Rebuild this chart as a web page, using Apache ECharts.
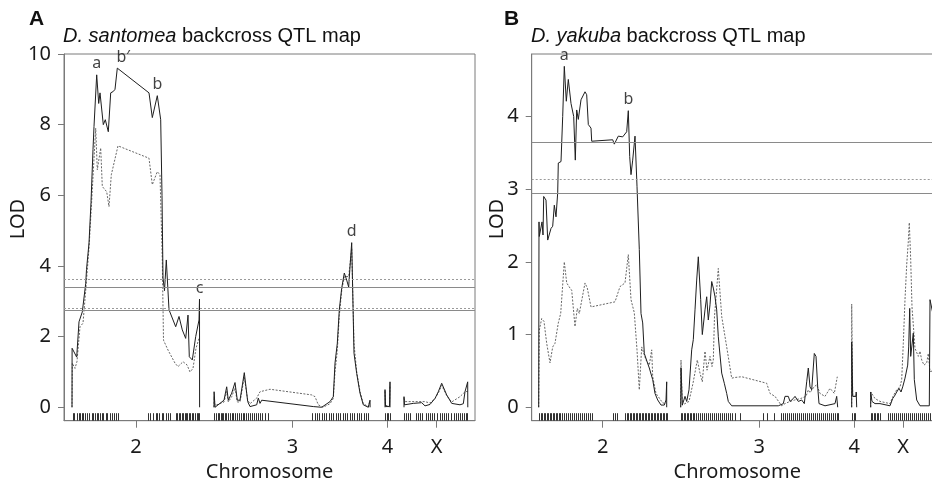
<!DOCTYPE html>
<html><head><meta charset="utf-8">
<script src="https://cdn.jsdelivr.net/npm/echarts@6/dist/echarts.min.js"></script>
<style>html,body{margin:0;padding:0;background:#fff}#c{width:932px;height:480px}</style>
</head><body><div id="c"></div>
<script>
// ---------- chromosome layout (cM) ----------
const chromNames = ['2', '3', '4', 'X'];
const chromLengths = [128, 157, 5, 65];
const chromGap = 14;
const axisMax = 411;

// ---------- thresholds ----------
const santomeaThreshSolid = [3.40, 2.76];
const santomeaThreshDotted = [3.63, 2.80];
const yakubaThreshSolid = [3.64, 2.95];
const yakubaThreshDotted = [3.14];

// ---------- y tick labels ----------
const santomeaYTicks = [0, 2, 4, 6, 8, 10];
const yakubaYTicks = [0, 1, 2, 3, 4];

// ---------- D. santomea LOD profiles [cM within chromosome, LOD] ----------
const santomeaSolid2 = [[0,0],[0.1,1.67],[4.7,1.42],[7,2.42],[10.3,2.7],[12,2.73],[13.7,3.5],[14.5,3.9],[17,4.65],[19,5.8],[21,7.3],[22,7.95],[24.7,9.41],[26.7,8.6],[28,8.9],[31.3,8.0],[33.3,8.14],[36.3,7.8],[38.7,8.9],[41.3,8.94],[43,9.0],[45.3,9.6],[77,8.9],[80.3,8.2],[85.3,8.82],[88.7,8.14],[90,6.0],[91,3.66],[92.5,3.3],[94.3,4.17],[97,2.76],[103.7,2.28],[107,2.57],[110.3,2.19],[113.7,1.95],[116,2.61],[117.3,1.43],[120.3,1.34],[123.7,2.0],[127,2.47],[127.5,3.06],[127.6,0]];
const santomeaDotted2 = [[0,0],[0.3,1.25],[3,1.1],[5,1.3],[8,2.28],[11,2.38],[13.7,3.3],[17,4.5],[20,6.0],[23.7,7.9],[25.3,6.72],[28.7,7.34],[30.3,6.25],[34.7,6.1],[37,5.68],[39.3,6.58],[46,7.4],[77,7.05],[80.3,6.3],[85.3,6.67],[88,6.58],[90.3,4.17],[91.5,1.9],[96,1.62],[103,1.25],[106,1.15],[111,1.29],[115,1.2],[118,1.0],[121,1.1],[124,1.67],[127,1.95]];
const santomeaSolid3 = [[0,0],[0.1,0.44],[1,0],[10,0.2],[12.7,0.58],[14.3,0.2],[17.7,0.4],[21,0.7],[23.3,0.2],[26,0.2],[30.3,0.98],[33.7,0.16],[36,0.02],[42.7,0.07],[44.3,0.26],[46,0.11],[47.7,0.2],[99.3,0.02],[107.7,0],[116,0.16],[119.3,0.3],[121,1.25],[123.3,1.81],[125.3,2.76],[127.7,3.37],[130.3,3.8],[132.7,3.6],[134.7,3.4],[135,3.56],[137.7,4.66],[140,1.53],[142.7,0.96],[146,0.4],[149.3,0.07],[154.3,0],[156,0.2],[156.1,0]];
const santomeaDotted3 = [[0,0],[0.1,0.3],[1,0.05],[10,0.15],[12.7,0.45],[14.3,0.15],[17.7,0.3],[21,0.55],[23.3,0.15],[26,0.15],[30.3,0.85],[33.7,0.2],[36,0.1],[42.7,0.26],[46,0.44],[56,0.51],[97.7,0.35],[101,0.3],[104.3,0.07],[109,0],[116,0.1],[119.3,0.25],[121,1.0],[123.3,1.6],[125.3,2.6],[127.7,3.3],[130.3,3.7],[134.7,3.7],[137.7,4.5],[140,1.8],[142.7,1.0],[146,0.45],[149.3,0.1],[154.3,0.02],[156,0.2]];
const santomeaSolid4 = [[0,0],[0,0.5],[0.5,0.02],[4.5,0.02],[5,0.72],[5,0]];
const santomeaDotted4 = [[0,0.45],[0.5,0.05],[4.5,0.05],[5,0.6]];
const santomeaSolidX = [[0,0],[0,0.3],[0.5,0.07],[9.3,0.11],[17.7,0.13],[21,0.04],[26,0.08],[31,0.25],[34.3,0.44],[37.7,0.68],[39.3,0.63],[42.7,0.35],[47.7,0.11],[56,0.07],[59.3,0.1],[61,0.44],[62.7,0.4],[63.7,0.72],[63.8,0]];
const santomeaDottedX = [[0,0.25],[1,0.16],[21,0.16],[26,0.12],[31,0.25],[34.3,0.4],[37.7,0.62],[39.3,0.6],[42.7,0.33],[47.7,0.15],[56,0.3],[61,0.44],[63.7,0.45]];

// ---------- D. yakuba LOD profiles ----------
const yakubaSolid2 = [[0,0],[0.3,2.55],[0.6,2.35],[3.3,2.55],[4.3,2.37],[5,2.9],[7.3,2.85],[9,2.3],[10.6,2.28],[12.3,2.46],[14,2.49],[15.6,2.78],[17.3,2.62],[19,2.95],[19.6,3.36],[22.3,3.38],[24,4.0],[25.6,4.69],[27.6,4.21],[29.6,4.51],[32.3,4.18],[34,4.2],[35,4.0],[36.6,3.4],[38,4.09],[39.6,3.96],[42.3,4.23],[46.3,4.34],[48,4.3],[49.6,3.89],[52.3,3.84],[53,3.66],[74,3.68],[75.6,3.62],[79.6,3.73],[84,3.72],[88,3.79],[89.6,4.08],[91,3.45],[92.3,3.2],[94,3.4],[96.3,3.73],[98.3,3.04],[100.6,2.17],[102.3,1.29],[104,1.16],[105.6,0.74],[108.3,0.63],[110.6,0.54],[114,0.38],[116.3,0.19],[119,0.1],[122.3,0.03],[125.6,0.03],[127.3,0.1],[128,0.35],[128,0]];
const yakubaDotted2 = [[0,0],[0.6,1.06],[3,1.22],[5.3,1.18],[8,0.88],[11.3,0.61],[14,0.83],[16.3,0.88],[19.6,1.16],[22,1.29],[25.6,2.0],[28,1.71],[31.3,1.64],[33,1.61],[36.3,1.11],[38.6,1.36],[40.6,1.29],[46.3,1.71],[48.6,1.64],[52.3,1.38],[76.3,1.45],[81.3,1.66],[86.3,1.71],[89.6,2.1],[92.3,1.48],[95.6,1.3],[98.3,0.79],[100.6,0.24],[103,0.83],[107.3,0.65],[110.6,0.58],[113,0.79],[114,0.42],[117.3,0.19],[124,0.06],[127.3,0.05]];
const yakubaSolid3 = [[0,0],[0.3,0.54],[1.6,0.03],[4.3,0.15],[6,0.08],[8.3,0.24],[11,0.79],[12.6,0.93],[14.3,1.34],[16,1.75],[17.6,2.07],[20,1.48],[21.6,1.0],[24.3,1.34],[26,1.52],[27.6,1.2],[29.3,1.41],[31,1.73],[32.6,1.64],[34.3,1.52],[36,1.34],[37.6,0.97],[41,0.47],[43.6,0.33],[46,0.19],[47.6,0.08],[51,0.02],[97.6,0.02],[102.6,0.05],[104.3,0.15],[107.6,0.15],[109.3,0.08],[112.6,0.12],[114.3,0.15],[117.6,0.08],[121,0.1],[123.6,0.05],[126,0.35],[127.6,0.54],[129.3,0.28],[131,0.24],[133.6,0.74],[135.3,0.7],[137,0.28],[138.3,0.05],[144.3,0.02],[154.3,0.05],[156,0.15],[157,0]];
const yakubaDotted3 = [[0,0],[0.3,0.65],[1.6,0.03],[4.3,0.05],[8.3,0.08],[12.3,0.33],[16.6,0.65],[19.3,0.47],[21.6,0.35],[24.3,0.77],[26.3,0.51],[29.3,0.7],[31.3,0.56],[32.6,0.65],[33.8,1.25],[37.6,1.91],[41,1.25],[46,0.83],[51,0.4],[54.3,0.41],[61,0.42],[86,0.33],[89.3,0.19],[94.3,0.15],[101,0.02],[104.3,0.05],[109.3,0.08],[114,0.1],[120,0.12],[125.3,0.15],[127.6,0.24],[129.3,0.2],[133.3,0.28],[136,0.31],[137.6,0.33],[139.3,0.19],[144.3,0.15],[149.3,0.26],[151,0.24],[153.6,0.19],[156.6,0.42]];
const yakubaSolid4 = [[0,0],[0,0.9],[1,0.15],[4.3,0.15],[4.5,0.21],[5,0]];
const yakubaDotted4 = [[0,0],[0,1.42],[1,0.15],[4.3,0.15],[5,0.2]];
const yakubaSolidX = [[0,0],[0,0.21],[1.3,0.08],[4.3,0.05],[9.3,0.05],[19.3,0.02],[22,0.12],[23.6,0.15],[26,0.21],[28.3,0.26],[30.3,0.21],[32,0.28],[34.3,0.4],[36,0.42],[37,0.58],[38,0.83],[39,1.36],[40,0.7],[41.6,0.7],[42.6,1.02],[43.6,0.38],[46,0.1],[49.3,0.02],[58.6,0.02],[59.3,1.48],[60,1.48],[62,1.3]];
const yakubaDottedX = [[0,0],[0,0.21],[4.3,0.12],[6,0.1],[9.3,0.08],[11,0.1],[19.3,0.05],[22.3,0.15],[26,0.24],[29.3,0.28],[31,0.38],[32.6,0.88],[34.3,1.48],[36,1.96],[37.6,2.28],[38.6,2.54],[40,2.03],[41.3,1.38],[44.3,0.81],[47.6,0.7],[49.3,0.77],[51,0.65],[53.3,0.58],[56,0.61],[57.6,0.74],[59.3,0.49],[60,0.48],[62,0.5]];

// ---------- marker positions (cM) ----------
const santomeaMarkers2 = [0.7,2,4.7,6.7,8,10,11.3,13.3,15.3,17.3,20,21.3,23,24.7,26.3,28,29.7,31.3,34,35.3,38,40,42,44,46.3,76.3,78,81.3,84,85.3,87.3,89.7,91.3,94,96.3,98,103.7,105.3,107,108,109.7,111.3,113,114,115.3,116.7,118,119.7,121.3,123,124.7,126.3,127.3];
const santomeaMarkers3 = [0,2,3.5,5,6.5,8,9,10.5,12,14,16,17.5,19,21,23,25,27,28.5,30,32,34,36,38,40,42,44,46,48,50.5,54,98,100.5,103,105,107.5,110,112,114.5,117,119,121.5,124,126,128.5,131,133,135.5,138,140,142.5,145,147,149.5,152,154];
const santomeaMarkers4 = [0,1.5,3,5];
const santomeaMarkersX = [0,2,4,6,12,14,16,18,22,24,26,28,30,33,36,38,40,42,44,47,50,52,54,56,58,60,62,63];
const yakubaMarkers2 = [0.6,2,3.5,5,6.5,8,9.5,11,12.5,14,15.5,17,18.5,20,21.5,23,25,27,29,31,33,35,37,39,41,43,45,47,49,51,53,74.3,76,78.3,86.3,88,89.5,91,92.5,94,95.5,97,98.5,100,101.5,103,104.5,106,107.5,109,110.5,112,113.5,115,116.5,118,119.5,121,122.5,124,125.5,127,128];
const yakubaMarkers3 = [0,1.5,3,4.5,6,7.5,9,10.5,12,13.5,15,17,19,21,23,25,27,29,31,33,35,37,39,41,43,45,47,49,51,54.3,59.3,82,86.6,93.3,100.3,102,104,106,108,110,112,114,116,118,120,122,124,126,128,130,132,134,136,138,140,142,144,146,148,150,152,154,156,157];
const yakubaMarkers4 = [0,2,3.6];
const yakubaMarkersX = [0,1.5,3,4.5,6,7.5,9.3,17.6,19,21,23,25,27,29,31,33,35,37,39,41,43,45,47,49,51,53,55,57,59,61,63];

// ---------- peak labels [chromosome index, cM, LOD, text] ----------
const santomeaPeaks = [[0,24.7,9.41,'a'],[0,45.3,9.6,'b\u2032'],[0,85.3,8.82,'b'],[0,127.5,3.06,'c'],[1,137.7,4.66,'d']];
const yakubaPeaks = [[0,25.6,4.69,'a'],[0,89.6,4.08,'b']];

// ================= build =================
const FONT = 'Noto Sans';
const TITLEFONT = 'Liberation Sans';
function offsets(start) { const o = []; let s = start; chromLengths.forEach(L => { o.push(s); s += L + chromGap; }); return o; }
const offA = offsets(8), offB = offsets(7);
const centersA = offA.map((o, i) => o + chromLengths[i] / 2);
const centersB = offB.map((o, i) => o + chromLengths[i] / 2);

const panels = [
  { off: offA, centers: centersA, ymin: -0.38, ymax: 10, yticks: santomeaYTicks,
    solid: [santomeaSolid2, santomeaSolid3, santomeaSolid4, santomeaSolidX],
    dotted: [santomeaDotted2, santomeaDotted3, santomeaDotted4, santomeaDottedX],
    markers: [santomeaMarkers2, santomeaMarkers3, santomeaMarkers4, santomeaMarkersX],
    thS: santomeaThreshSolid, thD: santomeaThreshDotted, peaks: santomeaPeaks },
  { off: offB, centers: centersB, ymin: -0.185, ymax: 4.86, yticks: yakubaYTicks,
    solid: [yakubaSolid2, yakubaSolid3, yakubaSolid4, yakubaSolidX],
    dotted: [yakubaDotted2, yakubaDotted3, yakubaDotted4, yakubaDottedX],
    markers: [yakubaMarkers2, yakubaMarkers3, yakubaMarkers4, yakubaMarkersX],
    thS: yakubaThreshSolid, thD: yakubaThreshDotted, peaks: yakubaPeaks }
];

const grids = [
  { left: 64, top: 54, width: axisMax, height: 366.7, show: true, borderColor: '#7a7a7a', borderWidth: 1, containLabel: false, outerBoundsMode: 'none' },
  { left: 531.7, top: 54, width: axisMax, height: 366.7, show: true, borderColor: '#7a7a7a', borderWidth: 1, containLabel: false, outerBoundsMode: 'none' }
];

const xAxes = [], yAxes = [], series = [];
panels.forEach((P, gi) => {
  xAxes.push({
    type: 'value', gridIndex: gi, min: 0, max: axisMax,
    axisLine: { show: true, onZero: false, lineStyle: { color: '#7a7a7a', width: 1 } },
    axisTick: { show: true, length: 7, customValues: P.centers, lineStyle: { color: '#7a7a7a' } },
    axisLabel: { customValues: P.centers, margin: 17, fontSize: 20, color: '#1a1a1a', fontFamily: FONT,
      formatter: v => { const i = P.centers.findIndex(c => Math.abs(c - v) < 0.01); return i >= 0 ? chromNames[i] : ''; } },
    splitLine: { show: false },
    name: 'Chromosome', nameLocation: 'middle', nameGap: 37,
    nameTextStyle: { fontSize: 20, color: '#1a1a1a', fontFamily: FONT }
  });
  yAxes.push({
    type: 'value', gridIndex: gi, min: P.ymin, max: P.ymax,
    axisLine: { show: true, onZero: false, lineStyle: { color: '#7a7a7a', width: 1 } },
    axisTick: { show: true, length: 6, customValues: P.yticks, lineStyle: { color: '#7a7a7a' } },
    axisLabel: { customValues: P.yticks, margin: 13, fontSize: 20, color: '#1a1a1a', fontFamily: FONT },
    splitLine: { show: false }
  });
  P.dotted.forEach((arr, ci) => {
    series.push({ type: 'line', xAxisIndex: gi, yAxisIndex: gi, showSymbol: false, silent: true, animation: false,
      data: arr.map(d => [P.off[ci] + d[0], d[1]]),
      lineStyle: { color: '#666', width: 1, type: [2, 1.5] }, z: 2 });
  });
  P.solid.forEach((arr, ci) => {
    series.push({ type: 'line', xAxisIndex: gi, yAxisIndex: gi, showSymbol: false, silent: true, animation: false,
      data: arr.map(d => [P.off[ci] + d[0], d[1]]),
      lineStyle: { color: '#1e1e1e', width: 1 }, z: 3 });
  });
  series.push({ type: 'line', xAxisIndex: gi, yAxisIndex: gi, data: [], silent: true, animation: false,
    markLine: { symbol: ['none', 'none'], silent: true, animation: false, label: { show: false },
      data: P.thS.map(v => ({ yAxis: v, lineStyle: { color: '#8a8a8a', width: 1, type: 'solid' } }))
        .concat(P.thD.map(v => ({ yAxis: v, lineStyle: { color: '#9a9a9a', width: 1, type: [2, 2] } }))) } });
  const rug = [];
  P.markers.forEach((arr, ci) => arr.forEach(m => rug.push([P.off[ci] + m, P.ymin])));
  series.push({ type: 'custom', xAxisIndex: gi, yAxisIndex: gi, silent: true, animation: false, data: rug,
    encode: { x: 0, y: 1 },
    renderItem: (params, api) => {
      const p = api.coord([api.value(0), api.value(1)]);
      const x = Math.round(p[0]) + 0.5;
      return { type: 'line', shape: { x1: x, y1: p[1], x2: x, y2: p[1] - 7.5 },
        style: { stroke: '#333', lineWidth: 1 } };
    } });
  series.push({ type: 'scatter', xAxisIndex: gi, yAxisIndex: gi, silent: true, animation: false, symbolSize: 0,
    data: P.peaks.map(p => ({ value: [P.off[p[0]] + p[1], p[2]], name: p[3],
      label: { offset: p[3] === 'b\u2032' ? [6, 0] : [0, 0] } })),
    label: { show: true, position: 'top', distance: 3, formatter: '{b}', fontSize: 16, color: '#111', fontFamily: FONT } });
});

const chart = echarts.init(document.getElementById('c'), null, { renderer: 'canvas' });
chart.setOption({
  backgroundColor: '#fff',
  animation: false,
  grid: grids, xAxis: xAxes, yAxis: yAxes, series: series,
  graphic: [
    { type: 'text', left: 29, top: 9, style: { text: 'A', font: 'bold 21px "Liberation Sans"', fill: '#111' } },
    { type: 'text', left: 504, top: 9, style: { text: 'B', font: 'bold 21px "Liberation Sans"', fill: '#111' } },
    { type: 'text', left: 63, top: 26, style: { text: '{i|D. santomea} backcross QTL map',
      rich: { i: { fontStyle: 'italic', fontSize: 20, fontFamily: TITLEFONT, fill: '#111' } },
      fontSize: 20, fontFamily: TITLEFONT, fill: '#111' } },
    { type: 'text', left: 531, top: 26, style: { text: '{i|D. yakuba} backcross QTL map',
      rich: { i: { fontStyle: 'italic', fontSize: 20, fontFamily: TITLEFONT, fill: '#111' } },
      fontSize: 20, fontFamily: TITLEFONT, fill: '#111' } },
    { type: 'text', x: 18, y: 219, rotation: Math.PI / 2, style: { text: 'LOD', font: '20px "Noto Sans"', fill: '#1a1a1a', align: 'center', verticalAlign: 'middle' } },
    { type: 'text', x: 497, y: 219, rotation: Math.PI / 2, style: { text: 'LOD', font: '20px "Noto Sans"', fill: '#1a1a1a', align: 'center', verticalAlign: 'middle' } }
  ]
});
</script></body></html>
